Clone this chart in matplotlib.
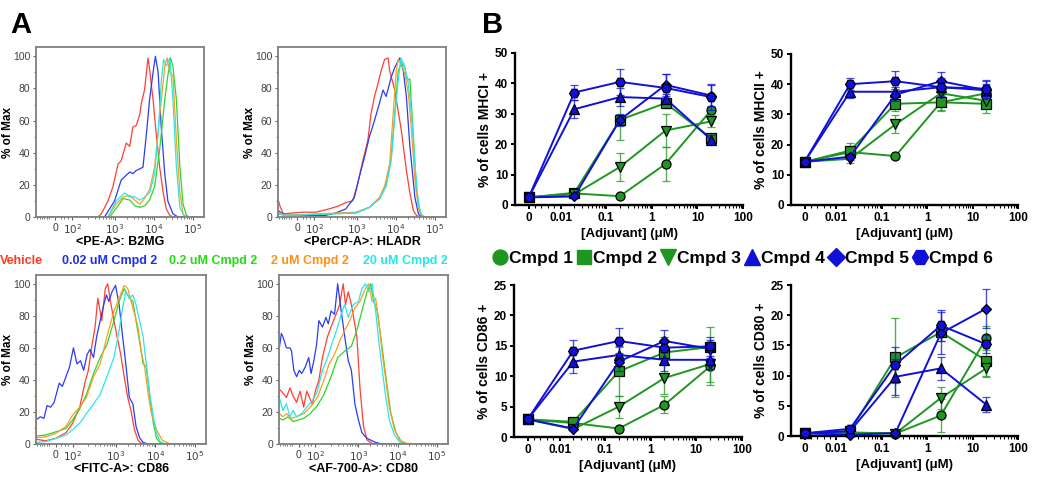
import numpy as np
import matplotlib.pyplot as plt
from matplotlib.lines import Line2D

plt.rcParams['font.family'] = ['Liberation Sans', 'DejaVu Sans']

# ---------------- Panel A: flow histograms ----------------
# x in display decades (10^3 -> 3, 10^4 -> 4 ...), y in % of max
b2mg_vehicle = [(0.97, 0), (2.56, 0), (2.65, 2), (2.82, 10), (2.95, 19), (3.08, 33), (3.16, 35),
                (3.29, 46), (3.38, 44), (3.46, 56), (3.55, 57), (3.64, 64), (3.68, 71), (3.76, 79),
                (3.85, 99), (3.89, 92), (3.98, 73), (4.06, 52), (4.15, 31), (4.24, 15), (4.32, 5),
                (4.41, 1), (4.49, 0), (5.29, 0)]
b2mg_002 = [(0.97, 0), (2.73, 0), (2.99, 10), (3.12, 20), (3.16, 23), (3.29, 26), (3.38, 28),
            (3.46, 27), (3.55, 29), (3.64, 30), (3.72, 31), (3.81, 52), (3.89, 73), (3.98, 90),
            (4.04, 100), (4.11, 90), (4.19, 56), (4.28, 27), (4.36, 10), (4.49, 2), (4.62, 0), (5.29, 0)]
b2mg_02 = [(0.97, 0), (2.86, 0), (3.08, 7), (3.21, 11.5), (3.38, 10.5), (3.51, 7), (3.64, 6),
           (3.76, 7), (3.89, 10.5), (4.02, 19), (4.15, 42), (4.28, 73), (4.36, 88), (4.43, 99),
           (4.49, 94), (4.58, 73), (4.67, 31), (4.75, 8), (4.84, 1), (4.92, 0), (5.29, 0)]
b2mg_2 = [(0.97, 0), (2.82, 0), (3.03, 8), (3.21, 12.5), (3.38, 13.5), (3.51, 10.5), (3.64, 8),
          (3.76, 11.5), (3.89, 17), (4.02, 31), (4.15, 63), (4.24, 84), (4.28, 94), (4.34, 99),
          (4.41, 90), (4.49, 88), (4.58, 48), (4.67, 15), (4.75, 2), (4.84, 0), (5.29, 0)]
b2mg_20 = [(0.97, 0), (2.82, 0), (3.03, 10), (3.25, 15), (3.38, 12.5), (3.51, 12.5), (3.64, 10.5),
           (3.76, 12.5), (3.89, 15), (4.02, 27), (4.11, 52), (4.19, 84), (4.25, 98), (4.32, 94),
           (4.41, 99), (4.49, 73), (4.58, 31), (4.67, 6), (4.79, 0), (5.29, 0)]

hladr_vehicle = [(0.97, 11), (1.03, 6), (1.11, 2), (1.59, 3), (1.94, 3), (2.28, 5), (2.54, 7),
                 (2.71, 9), (2.89, 10), (3.02, 21), (3.15, 35), (3.28, 48), (3.36, 64), (3.45, 75),
                 (3.54, 83), (3.62, 91), (3.71, 98), (3.80, 99), (3.84, 91), (3.97, 79), (4.14, 54),
                 (4.27, 29), (4.36, 15), (4.45, 4), (4.53, 1), (4.62, 0), (5.29, 0)]
hladr_002 = [(0.97, 4), (1.16, 1), (2.19, 1), (2.45, 2.5), (2.71, 5), (2.93, 12), (3.06, 25),
             (3.19, 37), (3.32, 50), (3.45, 60), (3.58, 71), (3.67, 79), (3.75, 75), (3.88, 87),
             (3.97, 93), (4.10, 99), (4.19, 91), (4.27, 75), (4.36, 44), (4.49, 12), (4.58, 2),
             (4.66, 0), (5.29, 0)]
hladr_02 = [(0.97, 2), (1.16, 1), (2.97, 2.5), (3.32, 6), (3.58, 12), (3.75, 21), (3.88, 37),
            (3.97, 64), (4.06, 91), (4.14, 96), (4.23, 93), (4.30, 85), (4.36, 86), (4.45, 50),
            (4.53, 17), (4.62, 3), (4.71, 0), (5.29, 0)]
hladr_2 = [(0.97, 3), (1.16, 1), (2.97, 3), (3.32, 6), (3.58, 12), (3.71, 19), (3.84, 33),
           (3.93, 64), (4.01, 91), (4.06, 98), (4.14, 95), (4.23, 89), (4.32, 77), (4.40, 54),
           (4.49, 23), (4.58, 5), (4.66, 1), (4.75, 0), (5.29, 0)]
hladr_20 = [(0.97, 2), (1.16, 1), (2.97, 2.5), (3.32, 6), (3.58, 11), (3.75, 19), (3.88, 35),
            (3.97, 62), (4.06, 85), (4.13, 99), (4.21, 95), (4.32, 83), (4.40, 64), (4.49, 33),
            (4.58, 8), (4.66, 1), (4.75, 0), (5.29, 0)]

cd86_vehicle = [(0.97, 3), (1.21, 2), (1.47, 3.5), (1.73, 7), (1.90, 13), (2.08, 23), (2.21, 38),
                (2.30, 46), (2.38, 60), (2.47, 73), (2.54, 91), (2.64, 77), (2.73, 97), (2.79, 100),
                (2.86, 89), (2.95, 77), (3.03, 67), (3.12, 56), (3.21, 42), (3.30, 29), (3.38, 21),
                (3.47, 9), (3.56, 2.5), (3.64, 0.5), (3.73, 0), (5.29, 0)]
cd86_002 = [(0.97, 15), (1.08, 17), (1.17, 16), (1.25, 24), (1.34, 23), (1.43, 26), (1.56, 38),
            (1.64, 36), (1.73, 42), (1.82, 48), (1.92, 60), (2.01, 50), (2.10, 52), (2.18, 46),
            (2.27, 56), (2.34, 59), (2.43, 54), (2.51, 67), (2.60, 77), (2.69, 87), (2.76, 93),
            (2.82, 89), (2.90, 95), (2.99, 99), (3.08, 87), (3.17, 67), (3.25, 50), (3.34, 29),
            (3.43, 25), (3.51, 11), (3.60, 4), (3.69, 1), (3.82, 0), (5.29, 0)]
cd86_02 = [(0.97, 5), (1.21, 5.6), (1.47, 7.6), (1.73, 9.7), (1.90, 15), (2.08, 22), (2.25, 31),
           (2.43, 44), (2.60, 54), (2.77, 62), (2.95, 77), (3.08, 89), (3.21, 97), (3.34, 91),
           (3.43, 89), (3.51, 77), (3.60, 64), (3.69, 50), (3.77, 48), (3.86, 29), (3.95, 13),
           (4.03, 3.5), (4.12, 1), (4.25, 0), (5.29, 0)]
cd86_2 = [(0.97, 100), (0.98, 4), (1.21, 4.5), (1.47, 6.6), (1.73, 11), (1.90, 18), (2.08, 23),
          (2.25, 29), (2.43, 42), (2.60, 50), (2.77, 67), (2.95, 83), (3.08, 91), (3.21, 99),
          (3.30, 97), (3.43, 85), (3.56, 73), (3.64, 58), (3.73, 48), (3.82, 31), (3.90, 19),
          (4.03, 9), (4.17, 2.5), (4.30, 1), (4.38, 0), (5.29, 0)]
cd86_20 = [(0.97, 1), (1.21, 1.5), (1.47, 3.5), (1.73, 5.6), (1.90, 9), (2.08, 13), (2.25, 19),
           (2.43, 25), (2.60, 31), (2.77, 42), (2.95, 54), (3.08, 71), (3.17, 85), (3.25, 95),
           (3.34, 91), (3.43, 93), (3.51, 87), (3.60, 77), (3.69, 67), (3.77, 50), (3.86, 31),
           (3.95, 17), (4.03, 7), (4.12, 1.5), (4.25, 0), (5.29, 0)]

cd80_vehicle = [(0.98, 34), (1.03, 33), (1.16, 29), (1.25, 35), (1.33, 30), (1.42, 26), (1.51, 33),
                (1.60, 23), (1.68, 33), (1.82, 25), (1.90, 33), (1.99, 40), (2.08, 54), (2.21, 67),
                (2.30, 73), (2.43, 81), (2.52, 87), (2.61, 100), (2.67, 87), (2.74, 95), (2.82, 87),
                (2.96, 67), (3.04, 35), (3.13, 11), (3.22, 2.5), (3.35, 0.4), (3.44, 0), (5.29, 0)]
cd80_002 = [(0.97, 100), (0.98, 60), (1.03, 69), (1.07, 67), (1.16, 60), (1.25, 60), (1.29, 58),
            (1.35, 46), (1.42, 42), (1.49, 46), (1.55, 44), (1.64, 48), (1.73, 54), (1.79, 44),
            (1.86, 52), (1.93, 62), (1.99, 77), (2.08, 73), (2.17, 79), (2.23, 75), (2.30, 83),
            (2.39, 81), (2.47, 100), (2.56, 83), (2.65, 67), (2.74, 52), (2.82, 46), (2.91, 25),
            (3.00, 15), (3.09, 7), (3.22, 3.5), (3.44, 1), (3.61, 0), (5.29, 0)]
cd80_02 = [(0.98, 16), (1.07, 15), (1.20, 17), (1.33, 14), (1.46, 15), (1.60, 16), (1.77, 19),
           (1.95, 24), (2.12, 31), (2.30, 42), (2.47, 54), (2.65, 58), (2.82, 61), (2.96, 71),
           (3.09, 83), (3.22, 95), (3.31, 100), (3.39, 89), (3.48, 83), (3.57, 67), (3.66, 50),
           (3.75, 33), (3.83, 19), (3.96, 7), (4.10, 1.4), (4.23, 0), (5.29, 0)]
cd80_2 = [(0.98, 19), (1.07, 17), (1.16, 19), (1.29, 16), (1.42, 17), (1.60, 19), (1.77, 23),
          (1.95, 29), (2.12, 40), (2.25, 50), (2.39, 56), (2.52, 64), (2.65, 71), (2.78, 77),
          (2.91, 85), (3.04, 89), (3.18, 97), (3.26, 100), (3.35, 89), (3.44, 91), (3.53, 75),
          (3.61, 56), (3.70, 40), (3.79, 23), (3.92, 9), (4.05, 2.5), (4.23, 0.4), (4.32, 0), (5.29, 0)]
cd80_20 = [(0.97, 100), (0.98, 29), (1.07, 21), (1.16, 25), (1.25, 17), (1.33, 21), (1.42, 17),
           (1.55, 19), (1.68, 23), (1.82, 27), (1.95, 33), (2.08, 46), (2.21, 54), (2.34, 64),
           (2.47, 73), (2.56, 81), (2.65, 87), (2.74, 79), (2.87, 87), (3.00, 89), (3.09, 97),
           (3.18, 100), (3.26, 95), (3.35, 100), (3.44, 83), (3.53, 62), (3.61, 46), (3.70, 29),
           (3.79, 15), (3.92, 5.6), (4.05, 1.4), (4.18, 0), (5.29, 0)]

hist_labels = ['Vehicle', '0.02 uM Cmpd 2', '0.2 uM Cmpd 2', '2 uM Cmpd 2', '20 uM Cmpd 2']
hist_colors = ['#ff4030', '#2a3cf5', '#2ad82a', '#ff9a2a', '#2ee6e6']
hist_text_colors = ['#ff3b20', '#1f2ff0', '#22dd11', '#ff9010', '#22e8e8']

# ---------------- Panel B: dose response ----------------
conc = [0, 0.02, 0.2, 2, 20]
cmpd_names = ['Cmpd 1', 'Cmpd 2', 'Cmpd 3', 'Cmpd 4', 'Cmpd 5', 'Cmpd 6']

mhci_mean = [[2.5, 3.8, 2.9, 13.5, 31.2], [2.5, 4.0, 28.0, 33.5, 22.0], [2.5, 3.5, 12.5, 24.5, 27.5],
             [2.5, 31.5, 35.5, 35.0, 21.5], [2.5, 2.8, 28.0, 39.5, 36.0], [2.5, 37.0, 40.5, 38.5, 35.5]]
mhci_err = [[0.3, 0.4, 0.5, 5.7, 1.0], [0.3, 0.5, 6.5, 1.5, 1.5], [0.3, 0.5, 4.5, 5.3, 2.0],
            [0.3, 3.0, 3.0, 1.5, 1.5], [0.3, 0.5, 2.0, 3.5, 3.5], [0.3, 2.5, 4.2, 4.5, 4.2]]

mhcii_mean = [[14.3, 17.5, 16.2, 34.0, 37.0], [14.3, 18.0, 33.5, 34.0, 33.5], [14.3, 15.3, 26.7, 37.0, 34.5],
              [14.3, 37.5, 37.5, 39.0, 38.0], [14.3, 16.0, 36.5, 41.0, 38.0], [14.3, 40.0, 41.0, 39.0, 38.5]]
mhcii_err = [[0.4, 1.5, 0.8, 2.5, 2.5], [0.4, 2.5, 2.5, 3.0, 3.0], [0.4, 1.5, 3.0, 2.0, 2.5],
             [0.4, 2.0, 1.5, 2.0, 2.0], [0.4, 1.0, 2.0, 3.0, 3.0], [0.4, 2.0, 3.5, 3.0, 3.0]]

cd86_mean = [[2.9, 2.3, 1.4, 5.3, 11.6], [2.9, 2.5, 10.8, 13.9, 14.8], [2.9, 1.3, 5.0, 9.7, 12.0],
             [2.9, 12.4, 13.5, 12.7, 12.7], [2.9, 1.4, 12.4, 15.8, 14.5], [2.9, 14.2, 15.8, 14.7, 14.9]]
cd86_err = [[0.5, 0.3, 0.2, 1.4, 3.0], [0.5, 0.4, 4.0, 2.0, 3.3], [0.5, 0.2, 1.8, 2.7, 3.0],
            [0.5, 1.8, 1.5, 1.8, 1.5], [0.5, 0.2, 1.5, 1.8, 1.5], [0.5, 1.8, 2.1, 1.8, 1.5]]

cd80_mean = [[0.45, 0.6, 0.4, 3.4, 16.2], [0.45, 0.8, 13.0, 17.2, 12.5], [0.45, 0.5, 0.4, 6.3, 11.2],
             [0.45, 0.8, 9.8, 11.2, 5.2], [0.45, 0.2, 0.5, 17.0, 21.1], [0.45, 1.2, 11.8, 18.3, 15.2]]
cd80_err = [[0.1, 0.2, 0.1, 2.8, 2.0], [0.1, 0.2, 6.5, 1.5, 2.5], [0.1, 0.2, 0.1, 1.8, 1.5],
            [0.1, 0.2, 3.0, 1.9, 1.2], [0.1, 0.1, 0.1, 3.5, 3.2], [0.1, 0.3, 3.0, 2.5, 1.5]]

GREEN = '#1f961f'
BLUE = '#1010d8'
cmpd_colors = [GREEN, GREEN, GREEN, BLUE, BLUE, BLUE]
cmpd_markers = ['o', 's', 'v', '^', 'D', 'H']
cmpd_msize = [6.5, 6.5, 7, 7, 5.5, 7]

ZERO_POS = -2.7  # where "0" sits on the log axis (in decades)


def fwd(x):
    x = np.asarray(x, dtype=float)
    lin = ZERO_POS + (x / 0.01) * (-2 - ZERO_POS)
    lg = np.log10(np.maximum(x, 0.01))
    return np.where(x < 0.01, lin, lg)


def inv(y):
    y = np.asarray(y, dtype=float)
    lin = (y - ZERO_POS) / (-2 - ZERO_POS) * 0.01
    lg = 10 ** np.maximum(y, -2)
    return np.where(y < -2, lin, lg)


fig = plt.figure(figsize=(10.5, 4.83), dpi=100)


def style_hist(ax, xlabel):
    ax.set_xlim(0.97, 5.29)
    ax.set_ylim(0, 105.5)
    for s in ax.spines.values():
        s.set_color('#808080')
        s.set_linewidth(1.3)
    ax.set_xticks([1.47, 1.9, 3, 4, 5])
    ax.set_xticklabels(['0', '$10^2$', '$10^3$', '$10^4$', '$10^5$'])
    minor = [1.0, 1.06, 1.12, 1.18, 1.24, 1.3, 1.6, 1.7, 1.78]
    for d in [2, 3, 4]:
        minor += [d + np.log10(k) for k in range(2, 10)]
    ax.set_xticks(minor, minor=True)
    ax.set_yticks([0, 20, 40, 60, 80, 100])
    ax.set_yticks(range(0, 101, 10), minor=True)
    ax.tick_params(labelsize=7.5, labelcolor='#404040', color='#606060', length=2.5, width=0.8, pad=1.5)
    ax.tick_params(which='minor', length=1.5, width=0.6, color='#606060')
    ax.set_ylabel('% of Max', fontsize=8.5, weight='bold', labelpad=-0.5)
    ax.set_xlabel(xlabel, fontsize=9, weight='bold', labelpad=0)


hist_panels = [
    ([0.0343, 0.5507, 0.160, 0.351], [b2mg_vehicle, b2mg_002, b2mg_02, b2mg_2, b2mg_20], '<PE-A>: B2MG'),
    ([0.2648, 0.5507, 0.160, 0.351], [hladr_vehicle, hladr_002, hladr_02, hladr_2, hladr_20], '<PerCP-A>: HLADR'),
    ([0.0343, 0.0807, 0.162, 0.350], [cd86_vehicle, cd86_002, cd86_02, cd86_2, cd86_20], '<FITC-A>: CD86'),
    ([0.2657, 0.0807, 0.161, 0.350], [cd80_vehicle, cd80_002, cd80_02, cd80_2, cd80_20], '<AF-700-A>: CD80'),
]
for rect, curves, xlabel in hist_panels:
    ax = fig.add_axes(rect)
    for pts, col in zip(curves, hist_colors):
        xs = [p[0] for p in pts]
        ys = [p[1] for p in pts]
        ax.plot(xs, ys, color=col, lw=0.9)
    style_hist(ax, xlabel)

# legend line for panel A
for lab, col, xc in zip(hist_labels, hist_text_colors, [21, 110, 213, 310, 405]):
    fig.text(xc / 1050, 1 - 261 / 483, lab, color=col, fontsize=9, weight='bold',
             ha='center', va='center')


def style_dose(ax, ylabel, ymax, ystep):
    ax.set_xscale('function', functions=(fwd, inv))
    ax.set_xlim(float(inv(-3.0)), 100)
    ax.set_ylim(0, ymax)
    ax.spines['top'].set_visible(False)
    ax.spines['right'].set_visible(False)
    ax.spines['left'].set_linewidth(1.7)
    ax.spines['bottom'].set_linewidth(1.7)
    ax.set_xticks([0, 0.01, 0.1, 1, 10, 100])
    ax.set_xticklabels(['0', '0.01', '0.1', '1', '10', '100'])
    minor = [0.002 * k for k in range(1, 5)]
    for d in [-2, -1, 0, 1]:
        minor += [k * 10.0 ** d for k in range(2, 10)]
    ax.set_xticks(minor, minor=True)
    ax.set_yticks(np.arange(0, ymax + 0.1, ystep))
    ax.tick_params(labelsize=8.5, width=1.4, length=3, pad=2)
    ax.tick_params(which='minor', width=0.8, length=1.8)
    for lab in ax.get_xticklabels() + ax.get_yticklabels():
        lab.set_fontweight('bold')
    ax.set_xlabel('[Adjuvant] (\u03bcM)', fontsize=9.5, weight='bold', labelpad=3)
    ax.set_ylabel(ylabel, fontsize=10, weight='bold', labelpad=2)


dose_panels = [
    ([0.4905, 0.5756, 0.2171, 0.3147], mhci_mean, mhci_err, '% of cells MHCI +', 50, 10),
    ([0.7533, 0.5756, 0.2162, 0.3126], mhcii_mean, mhcii_err, '% of cells MHCII +', 50, 10),
    ([0.4895, 0.0952, 0.2171, 0.3147], cd86_mean, cd86_err, '% of cells CD86 +', 25, 5),
    ([0.7533, 0.0973, 0.2162, 0.3126], cd80_mean, cd80_err, '% of cells CD80 +', 25, 5),
]
for rect, means, errs, ylabel, ymax, ystep in dose_panels:
    ax = fig.add_axes(rect)
    style_dose(ax, ylabel, ymax, ystep)
    for i in range(6):
        cont = ax.errorbar(conc, means[i], yerr=errs[i], color=cmpd_colors[i], lw=1.4,
                           marker=cmpd_markers[i], ms=cmpd_msize[i], mfc=cmpd_colors[i],
                           mec='black', mew=0.9, elinewidth=1.0, capsize=3, capthick=1.0,
                           ecolor=cmpd_colors[i], zorder=3 + i)
        cont[0].set_clip_on(False)
        for art in list(cont[1]) + list(cont[2]):
            art.set_clip_on(False)
            art.set_alpha(0.75)

# legend line for panel B
handles = [Line2D([], [], linestyle='none', marker=m, color=c, mec=c, ms=s * 1.65)
           for m, c, s in zip(cmpd_markers, cmpd_colors, cmpd_msize)]
fig.legend(handles, cmpd_names, loc='center', ncol=6, frameon=False,
           bbox_to_anchor=(743 / 1050, 1 - 258 / 483), prop={'weight': 'bold', 'size': 12.5},
           handlelength=0.8, handletextpad=0.1, columnspacing=0.25, borderaxespad=0)

fig.text(10 / 1050, 1 - 33 / 483, 'A', fontsize=21, weight='bold', va='baseline')
fig.text(482 / 1050, 1 - 33 / 483, 'B', fontsize=21, weight='bold', va='baseline')

fig.savefig('out.png', dpi=100)
